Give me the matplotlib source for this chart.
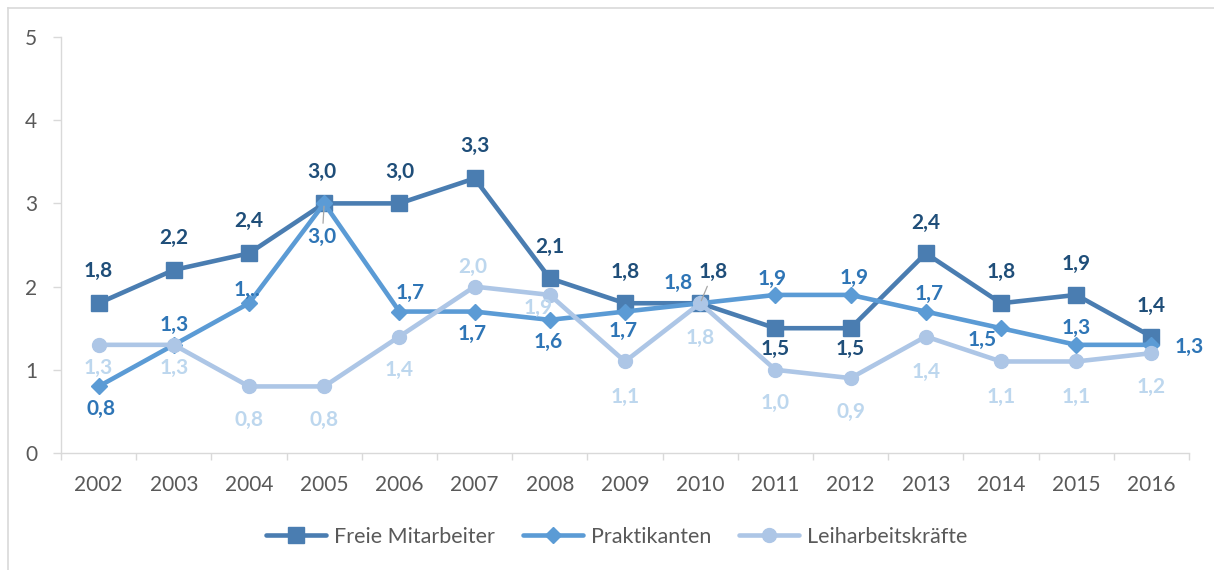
import matplotlib.pyplot as plt
from matplotlib.lines import Line2D

years = ['2002', '2003', '2004', '2005', '2006', '2007', '2008', '2009',
         '2010', '2011', '2012', '2013', '2014', '2015', '2016']
freie = [1.8, 2.2, 2.4, 3.0, 3.0, 3.3, 2.1, 1.8, 1.8, 1.5, 1.5, 2.4, 1.8, 1.9, 1.4]
praktikanten = [0.8, 1.3, 1.8, 3.0, 1.7, 1.7, 1.6, 1.7, 1.8, 1.9, 1.9, 1.7, 1.5, 1.3, 1.3]
leih = [1.3, 1.3, 0.8, 0.8, 1.4, 2.0, 1.9, 1.1, 1.8, 1.0, 0.9, 1.4, 1.1, 1.1, 1.2]
series_names = ['Freie Mitarbeiter', 'Praktikanten', 'Leiharbeitskräfte']

# label offsets in pixels (dx, dy; dy up)
freie_off = [(0, 32), (0, 32), (0, 32), (-2, 31), (0, 31), (0, 32), (0, 31), (0, 31),
             (13, 31), (0, -21), (0, -21), (0, 30), (0, 31), (0, 31), (0, 31)]
prakt_off = [(2, -23), (0, 20), (-2, 13), (-2, -34), (11, 19), (-2, -22), (-2, -22), (-2, -19),
             (-22, 20), (-3, 16), (4, 17), (3, 18), (-19, -12), (0, 17), (38, -2)]
leih_off = [(0, -23), (0, -23), (0, -34), (0, -34), (0, -33), (-2, 20), (-12, -13), (0, -35),
            (0, -35), (0, -33), (0, -34), (0, -35), (0, -35), (0, -35), (0, -34)]

line_colors = ['#4A7DB1', '#5B9BD5', '#ADC6E6']
label_colors = ['#1F4E79', '#2E75B6', '#BDD7EE']
markers = ['s', 'D', 'o']
msizes = [11.5, 8.5, 10]
# points with a small leader line (series index, point index)
leaders = [(0, 8), (1, 3)]

plt.rcParams['font.family'] = ['Lato', 'DejaVu Sans']

fig = plt.figure(figsize=(12.14, 5.70), dpi=100)
ax = fig.add_axes([61 / 1214, 1 - 453 / 570, 1128 / 1214, 416 / 570])

x = list(range(len(years)))
all_vals = [freie, praktikanten, leih]
all_off = [freie_off, prakt_off, leih_off]

for i, (vals, name) in enumerate(zip(all_vals, series_names)):
    ax.plot(x, vals, color=line_colors[i], lw=3.3, marker=markers[i],
            markersize=msizes[i], solid_capstyle='round', label=name, zorder=3 + i)

for i, (vals, offs) in enumerate(zip(all_vals, all_off)):
    for j, (v, (dx, dy)) in enumerate(zip(vals, offs)):
        txt = f'{v:.1f}'.replace('.', ',')
        if i == 1 and j == 2:
            txt = '1,..'
        kw = {}
        if (i, j) in leaders:
            kw['arrowprops'] = dict(arrowstyle='-', color='#A6A6A6', lw=0.9,
                                    shrinkA=1, shrinkB=2)
        ax.annotate(txt, xy=(j, v), xytext=(dx * 0.72, dy * 0.72),
                    textcoords='offset points', ha='center', va='center',
                    fontsize=15, fontweight='bold', color=label_colors[i],
                    zorder=7, **kw)

ax.set_xlim(-0.5, len(years) - 0.5)
ax.set_ylim(0, 5)
ax.set_yticks(range(6))
ax.set_xticks(x)
ax.set_xticklabels(years)
ax.set_xticks([k - 0.5 for k in range(len(years) + 1)], minor=True)
ax.tick_params(axis='x', which='major', length=0, pad=16, labelsize=15, labelcolor='#595959')
ax.tick_params(axis='x', which='minor', length=5, width=1, color='#D9D9D9')
ax.tick_params(axis='y', length=6, width=1, color='#D9D9D9', pad=11,
               labelsize=15, labelcolor='#595959')
for s in ['top', 'right']:
    ax.spines[s].set_visible(False)
for s in ['left', 'bottom']:
    ax.spines[s].set_color('#D9D9D9')
    ax.spines[s].set_linewidth(1)

leg = fig.legend(loc='center', bbox_to_anchor=(0.508, 1 - 537 / 570), ncol=3,
                 frameon=False, fontsize=15.5, handlelength=2.8, handletextpad=0.35,
                 columnspacing=1.3)
for t in leg.get_texts():
    t.set_color('#595959')

# outer border of the chart area
fig.add_artist(Line2D([8 / 1214, 8 / 1214], [0, 1 - 8 / 570], color='#D9D9D9', lw=1.2))
fig.add_artist(Line2D([8 / 1214, 1], [1 - 8 / 570, 1 - 8 / 570], color='#D9D9D9', lw=1.2))

fig.savefig('out.png', dpi=100)
